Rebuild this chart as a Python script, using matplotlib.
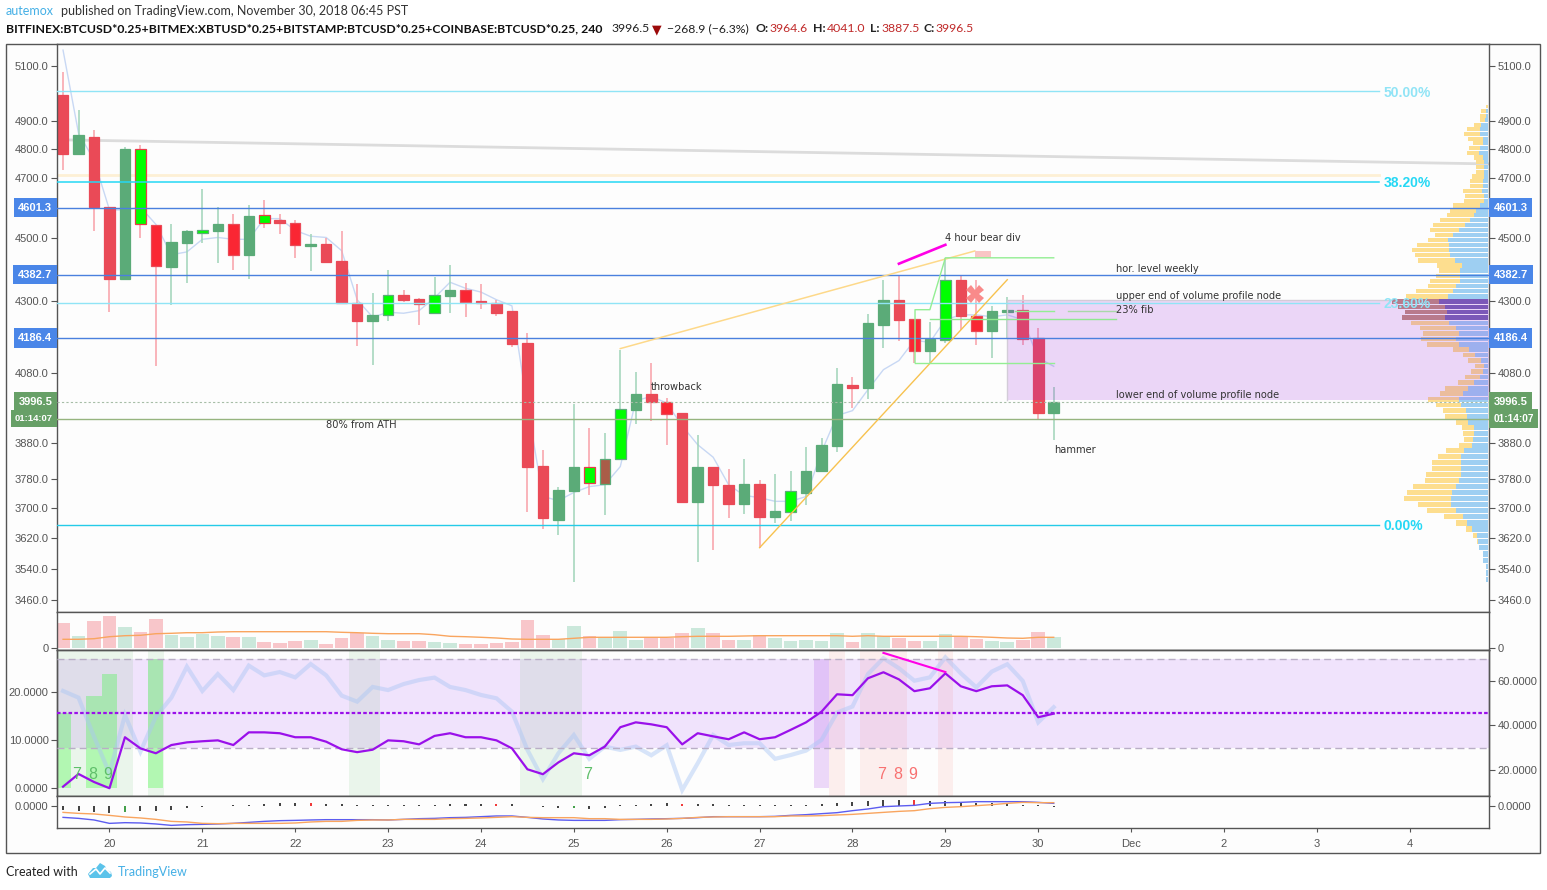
import matplotlib
matplotlib.use("Agg")
import matplotlib.pyplot as plt
from matplotlib.patches import Polygon, Rectangle
from matplotlib.ticker import FixedFormatter, FixedLocator, NullLocator
import numpy as np

W, H = 1547, 890
plt.rcParams["font.family"] = ["Liberation Sans", "DejaVu Sans"]

# ── candles (4h bars) ────────────────────────────────────────────────────
opens = [4994, 4785, 4842, 4603, 4370, 4803, 4543, 4407, 4485, 4518, 4525, 4546, 4445,
         4576, 4559, 4552, 4475, 4481, 4426, 4293, 4239, 4258, 4319, 4306, 4264, 4316,
         4335, 4300, 4293, 4270, 4172, 3816, 3669, 3747, 3813, 3766, 3833, 3972, 4020,
         3997, 3963, 3715, 3813, 3763, 3710, 3766, 3677, 3690, 3740, 3800, 3871, 4047,
         4038, 4226, 4304, 4245, 4148, 4180, 4367, 4254, 4206, 4267, 4273, 4186, 3964.6]
highs = [5078, 4941, 4868, 4603, 4807, 4817, 4543, 4548, 4528, 4664, 4603, 4579, 4610,
         4628, 4579, 4559, 4515, 4500, 4525, 4355, 4325, 4399, 4335, 4309, 4376, 4413,
         4358, 4352, 4303, 4270, 4202, 3860, 3758, 3991, 3922, 3908, 4151, 4085, 4112,
         4009, 3963, 3902, 3813, 3807, 3835, 3775, 3792, 3800, 3868, 3892, 4097, 4070,
         4261, 4367, 4383, 4245, 4236, 4437, 4380, 4367, 4285, 4313, 4320, 4216, 4041]
lows = [4730, 4785, 4525, 4266, 4370, 4500, 4101, 4288, 4358, 4485, 4420, 4398, 4370,
        4534, 4515, 4436, 4395, 4420, 4293, 4162, 4105, 4237, 4296, 4225, 4264, 4264,
        4250, 4274, 4254, 4159, 3689, 3645, 3627, 3506, 3734, 3680, 3833, 3934, 3940,
        3874, 3715, 3557, 3590, 3672, 3685, 3595, 3661, 3664, 3707, 3800, 3854, 3979,
        4005, 4156, 4178, 4112, 4112, 4172, 4210, 4166, 4127, 4186, 4166, 3948, 3887.5]
closes = [4785, 4849, 4603, 4370, 4803, 4546, 4410, 4487, 4525, 4528, 4546, 4445, 4573,
          4552, 4549, 4478, 4481, 4423, 4293, 4239, 4258, 4319, 4303, 4290, 4319, 4335,
          4296, 4293, 4264, 4169, 3813, 3672, 3750, 3813, 3767, 3835, 3977, 4020, 3997,
          3960, 3715, 3813, 3761, 3712, 3766, 3677, 3693, 3745, 3802, 3874, 4050, 4038,
          4233, 4304, 4242, 4148, 4183, 4367, 4254, 4206, 4270, 4273, 4183, 3965, 3996.5]
# g/r plain, R strong red, L lime, M lime with red border, B brown
kinds = "rgrrgMRggLgRgMrRgrrrgLrrLgRrrrrrggMBLgrRrgrrgrgLgggrggrRgLrRggrrg"
ma_line = [5159, 4857, 4764, 4594, 4594, 4603, 4546, 4447, 4456, 4497, 4503, 4497, 4497,
           4565, 4565, 4526, 4507, 4503, 4460, 4304, 4250, 4265, 4262, 4270, 4310, 4359,
           4340, 4328, 4304, 4285, 3983, 3731, 3720, 3742, 3758, 3763, 3813, 4000, 4012,
           3993, 3927, 3874, 3839, 3763, 3734, 3728, 3718, 3718, 3731, 3854, 3957, 3971,
           4032, 4091, 4118, 4179, 4173, 4242, 4257, 4257, 4251, 4257, 4242, 4126, 4101]

# ── volume ───────────────────────────────────────────────────────────────
volume = [25, 12, 27, 32, 21, 16, 29, 13, 11, 14, 12, 11, 11, 6, 5, 7, 8, 4, 10, 15, 12, 8,
          7, 7, 6, 5, 4, 4, 5, 6, 28, 13, 9, 22, 12, 10, 17, 8, 10, 10, 15, 20, 15, 8, 8,
          13, 10, 7, 8, 7, 15, 6, 15, 12, 10, 7, 7, 14, 11, 9, 7, 6, 8, 16, 11]
volume_ma = [8.7, 8.7, 9.3, 11.3, 12.3, 12.7, 14.3, 14.7, 15.3, 15.3, 16, 16.3, 16.3, 16.3,
             16.3, 16.3, 16.3, 16.3, 15.7, 15.3, 14.7, 14.3, 14.3, 14.3, 13.3, 11.7, 11.3,
             10.7, 10, 9, 8.7, 8.7, 8.7, 9.7, 10.7, 10.7, 10.7, 10.7, 10.7, 10.7, 11.3,
             11.7, 11.7, 11.7, 12, 12.3, 12.3, 12.3, 12.3, 12.3, 12.3, 11.7, 12.3, 11.7,
             11.7, 11.7, 11.7, 11.7, 11.7, 11.3, 10.7, 10, 9.7, 10.7, 10.7]

# ── volume profile, top row down to bottom row ───────────────────────────
vp_top_price, vp_bottom_price = 4952, 3513
vp_blue = [2, 7, 8, 10, 22, 26, 24, 16, 16, 24, 28, 17, 13, 13, 14, 13, 15, 15, 19, 13, 13,
           25, 36, 43, 55, 70, 88, 107, 120, 118, 118, 114, 100, 80, 85, 85, 85, 97, 107,
           121, 147, 130, 124, 130, 118, 97, 88, 96, 88, 57, 40, 22, 13, 15, 25, 43, 60,
           76, 88, 82, 67, 63, 60, 43, 43, 45, 49, 73, 81, 83, 83, 81, 87, 97, 110, 112,
           113, 98, 76, 64, 49, 34, 30, 28, 16, 16, 8, 8, 8]
vp_orange = [6, 15, 17, 16, 21, 38, 48, 46, 30, 34, 36, 27, 25, 25, 24, 37, 41, 39, 57, 58,
             60, 80, 80, 80, 90, 97, 87, 53, 61, 95, 111, 105, 111, 73, 64, 72, 90, 85, 110,
             126, 143, 140, 126, 129, 115, 109, 108, 106, 97, 49, 36, 38, 27, 37, 45, 49,
             69, 69, 92, 75, 68, 68, 37, 36, 33, 28, 39, 54, 69, 85, 86, 106, 103, 129,
             133, 141, 97, 86, 57, 33, 17, 11, 5, 0, 0, 0, 0, 0, 0]
vp_dark_rows = [40, 41, 42, 43]

# ── oscillator pane ──────────────────────────────────────────────────────
rsi_main = [12.5, 18.2, 14.6, 11.8, 34.7, 29.7, 27.5, 31.2, 32.4, 32.9, 33.3, 31.2, 36.9,
            36.9, 36.5, 34.7, 34.7, 32.7, 29.3, 28.0, 29.1, 33.3, 32.9, 31.5, 35.3, 36.5,
            34.7, 34.7, 33.3, 29.7, 20.3, 18.1, 23.4, 27.5, 26.6, 30.5, 39.2, 41.4, 40.5,
            39.2, 31.5, 36.5, 35.1, 33.8, 36.9, 33.8, 34.7, 38.0, 41.4, 46.2, 54.0, 53.6,
            61.2, 63.9, 60.7, 55.4, 56.7, 63.4, 57.6, 55.4, 57.6, 58.0, 53.6, 43.7, 45.3]
rsi_fast = [55.5, 52.5, 35.0, 18.5, 44.7, 28.2, 44.0, 52.5, 66.4, 55.5, 63.1, 55.9, 66.9,
            62.5, 64.0, 61.6, 67.6, 62.5, 53.4, 50.7, 57.3, 55.9, 58.6, 60.4, 61.5, 57.3,
            55.9, 53.7, 52.2, 46.2, 29.0, 15.9, 27.5, 35.7, 25.0, 30.5, 29.0, 30.5, 26.6,
            31.1, 11.0, 23.0, 35.7, 31.2, 32.0, 32.0, 25.0, 26.7, 28.7, 33.5, 45.8, 48.5,
            63.1, 70.2, 65.7, 60.1, 61.6, 70.6, 63.4, 57.1, 64.2, 67.5, 60.0, 41.4, 48.2]
rsi_mid = 45.5
count_bars = [0, 2, 3, 6]
count_vals = [15.5, 19, 23.7, 26.7]
purple_bar, purple_val = 49, 26.7
green_bands = [0, 1, 2, 3, 4, 6, 19, 20, 30, 31, 32, 33]
red_bands = [50, 52, 53, 54, 57]
green_counts = [(1, "7"), (2, "8"), (3, "9"), (34, "7")]
red_counts = [(53, "7"), (54, "8"), (55, "9")]

# ── macd pane ────────────────────────────────────────────────────────────
macd_hist = [-4.3, -5.3, -6.3, -7.3, -6.3, -5.3, -5.3, -4.3, -2, -1, -0.3, 0.7, 0.7, 1.7, 2.7,
             2.7, 2.7, 1.7, 1.7, 0.7, 0.7, 0.7, 0.7, 0.7, 0.7, 1.7, 1.7, 1.7, 1.7, 1.7, -0.3,
             -1.7, -2.7, -2.7, -3.3, -2.3, 0.3, 0.3, 1.7, 2.7, 1.7, 1.7, 1.7, 0.7, 0.7, 0.3,
             0.3, 0.7, 0.7, 1.7, 2.7, 3.7, 4.7, 5.7, 5.7, 5.7, 4.7, 4.7, 3.7, 2.7, 2.7, 1.7,
             0.7, 0.3, -1]
macd_green, macd_red = [4, 33], [16, 28, 40, 55]
macd_line = [-11.7, -12.7, -14.3, -17.7, -17, -17.3, -18.3, -19.7, -19, -18.7, -18.3, -17.7,
             -16.7, -15.7, -15, -14.7, -14.3, -14, -14, -14, -14, -14.3, -13.7, -13, -12.7,
             -12, -11.7, -11, -10.3, -10.3, -11.7, -13.3, -14.3, -14.7, -14.7, -14.7, -14,
             -13.7, -13.3, -13, -12.7, -12, -11, -11, -11, -11, -10.7, -9.7, -9, -8, -7, -5,
             -3.3, -1, -0.3, 0.3, 2.3, 3, 3.3, 4, 4, 4, 4, 3.3, 2.3]
macd_signal = [-6.7, -7.7, -8.3, -9.7, -11.3, -12.3, -13.7, -15.7, -16.3, -17.7, -18, -17.7,
               -17.7, -17.7, -17.7, -17.3, -16.3, -15.7, -15.7, -14.7, -14.3, -14.3, -13.7,
               -13.7, -13.7, -13, -12.7, -12.3, -11.7, -11, -11.7, -12, -12, -12, -13, -13,
               -13.7, -13.7, -13.7, -13.3, -12.7, -11.7, -11.3, -11, -11, -11, -11, -10.3,
               -10.3, -10, -9.3, -8.7, -7.7, -6.7, -5.7, -5, -3, -1.7, -1, 0, 1, 2.3, 3.3, 3, 3]

# ── axis labels and price levels ─────────────────────────────────────────
price_ticks = [5100, 4900, 4800, 4700, 4500, 4400, 4300, 4080, 3880, 3780, 3700, 3620, 3540, 3460]
day_pos = [3, 9, 15, 21, 27, 33, 39, 45, 51, 57, 63, 69, 75, 81, 87]
day_labels = ["20", "21", "22", "23", "24", "25", "26", "27", "28", "29", "30", "Dec", "2", "3", "4"]
blue_levels = [4601.3, 4382.7, 4186.4]
fib_levels = [5008, 4689, 4294, 3656]
fib_labels = ["50.00%", "38.20%", "23.60%", "0.00%"]
last_price = 3996.5
ath_level = 3948

X0, X1 = -0.39, 92.12
BAR_PX = 15.48
GREY = "#555555"
BG = "#fdfdfd"


def pane(top, bottom):
    ax = fig.add_axes([57 / W, 1 - bottom / H, (1489 - 57) / W, (bottom - top) / H])
    ax.set_facecolor(BG)
    ax.set_xlim(X0, X1)
    ax.xaxis.set_major_locator(NullLocator())
    ax.tick_params(axis="y", colors=GREY, labelsize=8, length=4, width=0.8, pad=2)
    for s in ax.spines.values():
        s.set_color(GREY)
        s.set_linewidth(1.0)
    return ax


def price_box(ax, price, text, color, left_size=8, right_size=8):
    for side, size in ((0, left_size), (1, right_size)):
        pad = 0.42 * size
        ax.annotate(text, xy=(side, price), xycoords=ax.get_yaxis_transform(),
                    xytext=(pad if side else -pad, 0), textcoords="offset points",
                    ha="left" if side else "right", va="center", color="white",
                    fontsize=size, fontweight="bold", annotation_clip=False, zorder=20,
                    bbox=dict(boxstyle="square,pad=0.42", fc=color, ec="none"))


fig = plt.figure(figsize=(W / 100, H / 100), dpi=100, facecolor="white")

# frame, header and footer live on a pixel sized overlay
ov = fig.add_axes([0, 0, 1, 1], zorder=-5)
ov.set_xlim(0, W)
ov.set_ylim(H, 0)
ov.axis("off")
ov.add_patch(Rectangle((6, 44), 1534, 809, fc=BG, ec=GREY, lw=1.0))

hdr = dict(family=["Lato", "DejaVu Sans"], va="center")
HS = 9.0
BS = 8.8
ov.text(6, 11, "autemox", color="#45b0e6", fontsize=HS, **hdr)
ov.text(61, 11, "published on TradingView.com, November 30, 2018 06:45 PST", color="#333333",
        fontsize=HS, **hdr)
ov.text(6, 29, "BITFINEX:BTCUSD*0.25+BITMEX:XBTUSD*0.25+BITSTAMP:BTCUSD*0.25+COINBASE:BTCUSD*0.25, 240",
        color="#111111", fontsize=BS, fontweight="bold", **hdr)
ov.text(611, 29, "3996.5", color="#222222", fontsize=BS, **hdr)
ov.text(652, 29, "▼", color="#9c0a0a", fontsize=9.0, **hdr)
ov.text(667, 29, "−268.9 (−6.3%)", color="#222222", fontsize=BS, **hdr)
for x_lab, lab, x_val, val in [(756, "O:", 770, "3964.6"), (813, "H:", 827, "4041.0"),
                               (870, "L:", 881, "3887.5"), (924, "C:", 936, "3996.5")]:
    ov.text(x_lab, 29, lab, color="#222222", fontsize=BS, fontweight="bold", **hdr)
    ov.text(x_val, 29, val, color="#c02a2a", fontsize=BS, **hdr)
ov.text(6, 872, "Created with", color="#222222", fontsize=HS, **hdr)
ov.text(118, 872, "TradingView", color="#45b0e6", fontsize=HS, **hdr)
ov.add_patch(Polygon([(88, 874), (93, 868), (96, 868), (100, 863), (105, 866), (107, 870),
                      (111, 872), (112, 876), (110, 878), (90, 878)], fc="#5bc3ea", ec="none"))
ov.plot([90, 96, 100, 105, 110], [874, 869, 874, 868, 873], color="white", lw=1.2)

# ── main pane ────────────────────────────────────────────────────────────
ax = pane(44, 612)
ax.set_yscale("log")
ax.set_ylim(3431, 5182)
ax.yaxis.set_minor_locator(NullLocator())
ax.yaxis.set_major_locator(FixedLocator(price_ticks))
ax.yaxis.set_major_formatter(FixedFormatter([f"{p:.1f}" for p in price_ticks]))
ax.tick_params(axis="y", left=True, right=True, labelleft=True, labelright=True)

xs = np.arange(len(closes))
opens_a, closes_a = np.array(opens), np.array(closes)
up = closes_a >= opens_a

FILL = {"g": "#5bab78", "r": "#ea4a57", "R": "#fa2633", "L": "#00ff00", "M": "#00ff00", "B": "#a95d48"}
EDGE = {"g": "#5bab78", "r": "#ea4a57", "R": "#ea4a57", "L": "#5bab78", "M": "#ea3a4a", "B": "#5bab78"}

# purple rect and lines sit over the candles, ma line under them
ax.plot(xs, ma_line, color="#c8d8f4", lw=1.0, zorder=1.5)
ax.vlines(xs, lows, highs, colors=["#a0d4b8" if u else "#f8a0a8" for u in up], lw=1.1, zorder=1.6)
ax.bar(xs, np.abs(closes_a - opens_a), bottom=np.minimum(opens_a, closes_a), width=0.68,
       color=[FILL[k] for k in kinds], edgecolor=[EDGE[k] for k in kinds], linewidth=0.9, zorder=2)

# volume profile is anchored on the right edge, one unit is a third of a pixel
vp_prices = np.linspace(vp_top_price, vp_bottom_price, len(vp_blue))
unit = 1 / 3 / BAR_PX
vp_right = X1 - 0.7 * unit * 3
blue_w = np.array(vp_blue) * unit
orange_w = np.array(vp_orange) * unit
ax.barh(vp_prices, blue_w, left=vp_right - blue_w, height=14, color="#9ecff2", zorder=2.2)
ax.barh(vp_prices, orange_w, left=vp_right - blue_w - orange_w, height=14, color="#fdde8f", zorder=2.2)
ax.barh(vp_prices[vp_dark_rows], blue_w[vp_dark_rows], left=(vp_right - blue_w)[vp_dark_rows],
        height=14, color="#7b58b8", zorder=3.2)
ax.barh(vp_prices[vp_dark_rows], orange_w[vp_dark_rows],
        left=(vp_right - blue_w - orange_w)[vp_dark_rows], height=14, color="#b87a8c", zorder=3.2)

ax.add_patch(Rectangle((61, 4003), X1 - 61, 4304 - 4003, fc="#9c27e0", alpha=0.18, ec="none", zorder=3))
ax.plot([61, 61, X1], [4003, 4304, 4304], color="#d3ccd8", lw=1.0, zorder=3.1)

for lvl, col, lw in zip(fib_levels, ["#90e4f6", "#25d8f5", "#90e4f6", "#25cbe8"], [1, 1.1, 1, 1]):
    ax.plot([X0, 85], [lvl, lvl], color=col, lw=lw, zorder=4)
for lvl, lab, col in zip(fib_levels, fib_labels, ["#90e4f6", "#25d8f5", "#90e4f6", "#25d8f5"]):
    ax.text(85.3, lvl, lab, color=col, fontsize=10, fontweight="bold", va="center_baseline", zorder=6)

for lvl in blue_levels:
    ax.axhline(lvl, color="#4a80de", lw=1.0, zorder=4)
ax.axhline(last_price, color="#a6bda6", lw=0.8, ls=(0, (2, 2)), zorder=4)
ax.axhline(ath_level, color="#96b47f", lw=1.0, zorder=4)

ax.plot([X0, X1], [4834, 4750], color="#dcdcdc", lw=2.0, zorder=1.2)
ax.plot([X0, 85], [4713, 4713], color="#fdf0d5", lw=2.0, zorder=1.2)
ax.plot([36, 58.9], [4154, 4459], color="#fdd98a", lw=1.1, zorder=4)
ax.plot([45, 61], [3595, 4367], color="#f7c24f", lw=1.0, zorder=4)
ax.plot([54.0, 57.0], [4418, 4479], color="#ff00e6", lw=1.9, zorder=5)
ax.add_patch(Rectangle((58.9, 4437), 1.05, 4459 - 4437, fc="#f9c5c5", ec="none", zorder=4))

# pitchfork style green lines
green_thin = "#93ee93"
ax.plot([55.04, 55.04, 56, 57, 64], [4112, 4273, 4273, 4437, 4437], color=green_thin, lw=1.0, zorder=4)
ax.plot([55.04, 64], [4112, 4112], color=green_thin, lw=1.0, zorder=4)
ax.plot([56, 64, 68], [4245, 4245, 4245], color="#8fe88f", lw=1.0, zorder=4)
ax.plot([61.5, 64], [4270, 4270], color=green_thin, lw=1.0, zorder=4)
ax.plot([64.9, 68], [4270, 4270], color="#a9d8a9", lw=1.0, zorder=4)
ax.plot([58.9], [4323], marker="X", color="#f98a8a", ms=12.5, mew=0, zorder=5)

note = dict(family="DejaVu Sans", fontsize=7.15, color="#333333", va="center", ha="left", zorder=7)
ax.text(57, 4500, "4 hour bear div", **note)
ax.text(68, 4402, "hor. level weekly", **note)
ax.text(68, 4317, "upper end of volume profile node", **note)
ax.text(68, 4273, "23% fib", **note)
ax.text(68, 4017, "lower end of volume profile node", **note)
ax.text(38, 4041, "throwback", **note)
ax.text(64.05, 3860, "hammer", **note)
ax.text(17, 3931, "80% from ATH", **note)

for lvl, lab in zip(blue_levels, ["4601.3", "4382.7", "4186.4"]):
    price_box(ax, lvl, lab, "#4a86e8")
price_box(ax, last_price, "3996.5", "#67a067")
price_box(ax, ath_level, "01:14:07", "#67a067", left_size=6.8, right_size=7.3)

# ── volume pane ──────────────────────────────────────────────────────────
ax_v = pane(612, 650)
ax_v.set_ylim(-2, 36)
ax_v.bar(xs, volume, width=0.88, color=["#cbe8db" if u else "#f8c6ca" for u in up], zorder=2)
ax_v.plot(xs, volume_ma, color="#f9a55f", lw=1.0, zorder=3)
ax_v.set_yticks([0], ["0"])
ax_v.tick_params(axis="y", left=True, right=True, labelleft=True, labelright=True)

# ── oscillator pane: left scale behind, right scale on top ───────────────
ax_l = pane(650, 796)
ax_l.set_ylim(-1.55, 28.56)
ax_l.axhspan(8.4, 26.75, color="#f0e3fc", lw=0, zorder=1)
for b in green_bands:
    ax_l.axvspan(b - 0.5, b + 0.5, color="#4caf50", alpha=0.1, lw=0, zorder=1.2)
for b in red_bands:
    ax_l.axvspan(b - 0.5, b + 0.5, color="#f44336", alpha=0.08, lw=0, zorder=1.2)
ax_l.bar(count_bars, count_vals, width=0.97, color="#00ff00", alpha=0.24, zorder=2)
ax_l.bar([purple_bar], [purple_val], width=0.97, color="#9c27e0", alpha=0.17, zorder=2)
ax_l.set_yticks([0, 10, 20], ["0.0000", "10.0000", "20.0000"])

ax_r = ax_l.twinx()
ax_r.set_xlim(X0, X1)
ax_r.set_ylim(8.3, 73.9)
ax_r.set_yticks([20, 40, 60], ["20.0000", "40.0000", "60.0000"])
ax_r.tick_params(axis="y", colors=GREY, labelsize=8, length=4, width=0.8, pad=2)
for s in ax_r.spines.values():
    s.set_color(GREY)
    s.set_linewidth(1.0)
ax_r.plot(xs, rsi_fast, color="#a9c6f5", lw=3.0, alpha=0.45, zorder=2, solid_joinstyle="miter")
ax_r.plot(xs, rsi_main, color="#9a10ea", lw=1.6, zorder=4)
ax_r.axhline(rsi_mid, color="#9a10ea", lw=1.6, ls=(0, (1.6, 1)), zorder=3)
for lvl in (30, 70):
    ax_r.axhline(lvl, color="#b9aec6", lw=1.0, ls=(0, (5, 3)), zorder=3)
ax_r.plot([53, 57], [72.6, 64], color="#ff00e6", lw=1.5, zorder=5)
for b, lab in green_counts:
    ax_r.text(b - 0.1, 17.75, lab, color="#5fbf6a", fontsize=11.5, ha="center", va="center", zorder=5)
for b, lab in red_counts:
    ax_r.text(b - 0.1, 17.75, lab, color="#f87171", fontsize=11.5, ha="center", va="center", zorder=5)

# ── macd pane ────────────────────────────────────────────────────────────
ax_m = pane(796, 828)
ax_m.set_ylim(-22.33, 9.67)
hist_cols = ["#44a04a" if i in macd_green else "#f03a3a" if i in macd_red else "#444444" for i in xs]
ax_m.bar(xs, macd_hist, width=0.13, color=hist_cols, zorder=2)
ax_m.plot(xs, macd_line, color="#5c5cf0", lw=1.0, zorder=3)
ax_m.plot(xs, macd_signal, color="#f9a55f", lw=1.0, zorder=3)
ax_m.set_yticks([0], ["0.0000"])
ax_m.tick_params(axis="y", left=True, right=True, labelleft=True, labelright=True)
ax_m.xaxis.set_major_locator(FixedLocator(day_pos))
ax_m.xaxis.set_major_formatter(FixedFormatter(day_labels))
ax_m.tick_params(axis="x", colors=GREY, labelsize=8, length=3, width=0.8, pad=5)

fig.savefig("out.png", dpi=100, facecolor="white")
